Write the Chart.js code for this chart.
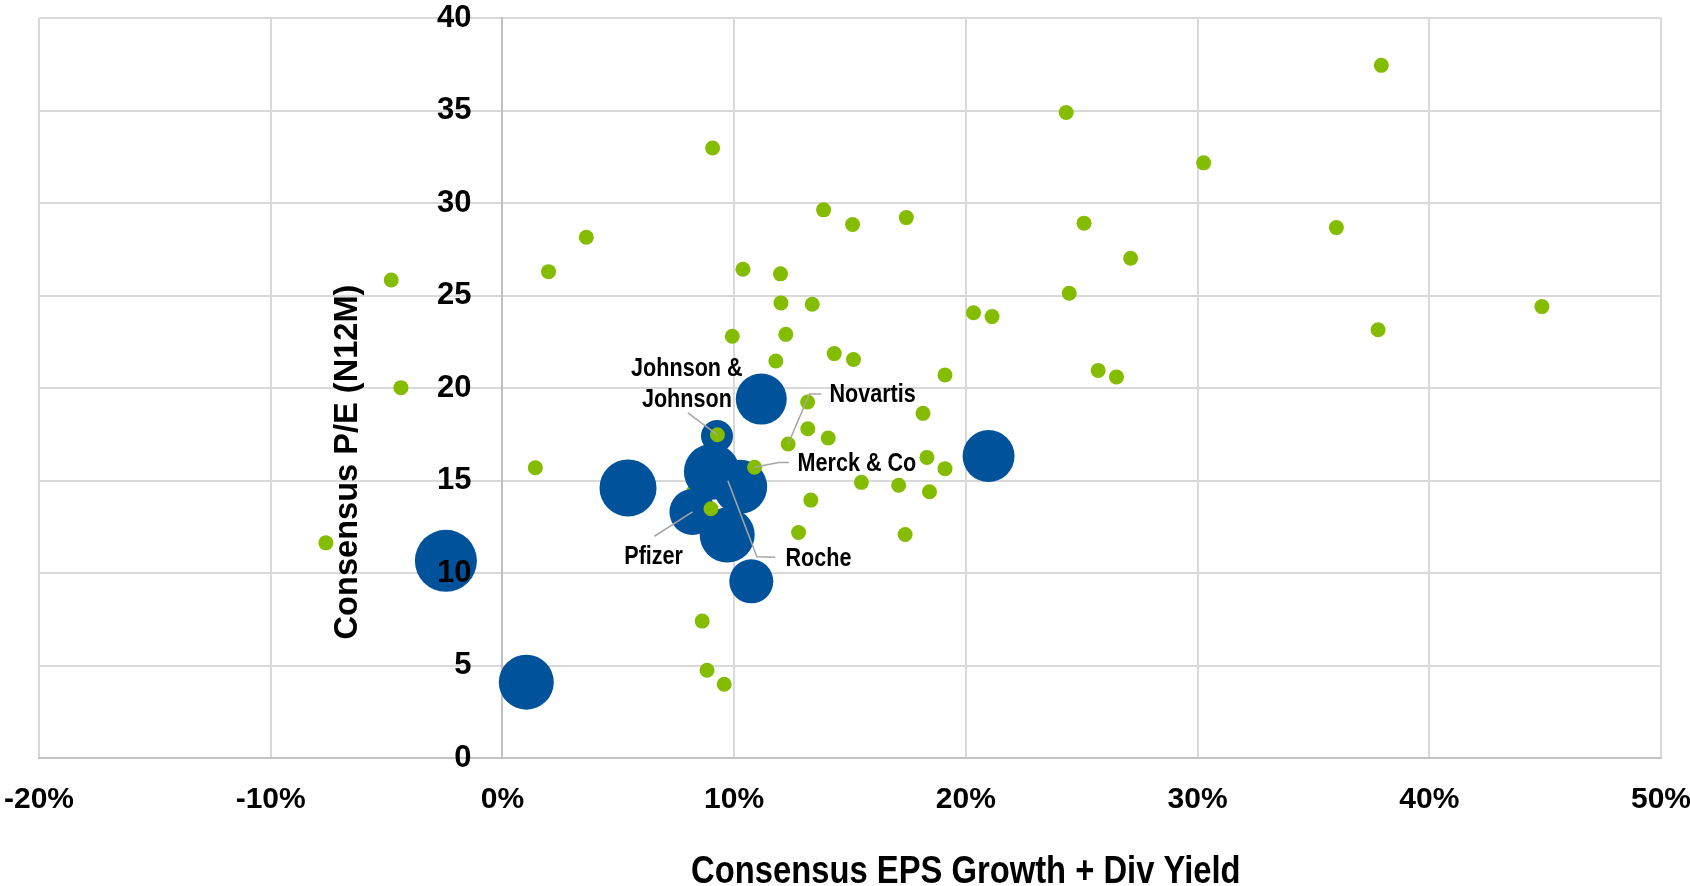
<!DOCTYPE html>
<html>
<head>
<meta charset="utf-8">
<script src="https://cdn.jsdelivr.net/npm/chart.js@4.4.1/dist/chart.umd.min.js"></script>
<style>
  html, body { margin: 0; padding: 0; background: #fff; }
  #wrap { width: 1690px; height: 886px; }
</style>
</head>
<body>
<div id="wrap"><canvas id="valuationChart"></canvas></div>
<script>
// Consensus EPS growth + div yield (%) vs consensus P/E (N12M)
const peerGrowth = [37.93, 24.33, 9.07, 30.26, 13.86, 17.43, 15.11, 25.10, 3.62, 35.99,
  27.11, 1.99, 10.38, 12.00, -4.80, 24.46, 12.02, 13.37, 44.86, 20.33,
  21.13, 37.79, 9.92, 12.23, 14.32, 11.80, 15.15, 19.10, 25.71, 26.50,
  -4.38, 18.15, 13.17, 13.18, 14.06, 12.33, 9.28, 10.88, 18.32, 19.10,
  15.49, 17.10, 18.43, 13.31, 9.00, 12.78, 17.38, 1.42, -7.62, 8.62,
  8.83, 9.57];
const peerPE = [37.44, 34.89, 32.97, 32.17, 29.63, 29.21, 28.84, 28.91, 28.15, 28.67,
  27.01, 26.29, 26.42, 26.17, 25.84, 25.12, 24.60, 24.53, 24.40, 24.07,
  23.86, 23.15, 22.80, 22.90, 21.86, 21.46, 21.54, 20.70, 20.95, 20.60,
  20.02, 18.63, 19.24, 17.80, 17.30, 16.97, 17.47, 15.72, 16.25, 15.64,
  14.90, 14.74, 14.39, 13.94, 13.47, 12.19, 12.08, 15.69, 11.63, 7.40,
  4.74, 3.99];

// one peer sits underneath the big bubbles
const hiddenGrowth = [8.25];
const hiddenPE = [14.39];

// large caps, bubble size in px
const bigGrowth = [-2.44, 1.03, 5.42, 8.20, 9.04, 10.26, 9.70, 9.26, 11.17, 10.74, 20.98];
const bigPE = [10.66, 4.10, 14.60, 13.30, 15.47, 14.66, 12.05, 17.40, 19.40, 9.55, 16.32];
const bigSize = [31, 27.5, 28.5, 23, 28, 27, 27.5, 16, 25.5, 22, 26];

const calloutNames = [['Johnson &', 'Johnson'], ['Novartis'], ['Merck & Co'], ['Pfizer'], ['Roche']];
const calloutGrowth = [9.28, 12.33, 10.88, 8.20, 9.73];
const calloutPE = [17.47, 16.97, 15.72, 13.30, 14.99];

const xMin = -20, xMax = 50, xStep = 10;
const yMin = 0, yMax = 40, yStep = 5;

const green = '#84bc00';
const blue = '#00529b';
const sans = "'Liberation Sans', Arial, sans-serif";
const SQUEEZE = 0.83; // no narrow face installed, squeeze by hand

const toPoints = (xs, ys, rs) => xs.map((v, i) => rs ? { x: v, y: ys[i], r: rs[i] } : { x: v, y: ys[i] });

function squeezedText(ctx, text, x, y, align, sx) {
  ctx.save();
  ctx.translate(x, y);
  ctx.scale(sx, 1);
  ctx.textAlign = align;
  ctx.fillText(text, 0, 0);
  ctx.restore();
}

// leader lines + labels, offsets in px from the point they refer to
const calloutLayout = [
  { path: [[-29.6, -22]], text: [-30.6, -66], align: 'center', lineGap: 31 },
  { path: [[21.3, -50], [33, -50]], text: [41.3, -49], align: 'left' },
  { path: [[24, -4.6], [34.4, -4.6]], text: [43, -3.3], align: 'left' },
  { path: [[-38, 24.3]], text: [-38.8, 45], align: 'center' },
  { path: [[29, 76], [47.3, 76.6]], text: [57.6, 78.3], align: 'left' }
];

const annotate = {
  id: 'annotate',
  afterDatasetsDraw(chart) {
    const { ctx, scales } = chart;
    ctx.save();
    ctx.strokeStyle = '#a6a6a6';
    ctx.lineWidth = 1.5;
    ctx.fillStyle = '#000';
    ctx.font = 'bold 26px ' + sans;
    ctx.textBaseline = 'middle';
    for (let i = 0; i < calloutNames.length; i++) {
      const px = scales.x.getPixelForValue(calloutGrowth[i]);
      const py = scales.y.getPixelForValue(calloutPE[i]);
      const lay = calloutLayout[i];
      ctx.beginPath();
      ctx.moveTo(px, py);
      lay.path.forEach(p => ctx.lineTo(px + p[0], py + p[1]));
      ctx.stroke();
      calloutNames[i].forEach((line, j) => {
        squeezedText(ctx, line, px + lay.text[0], py + lay.text[1] + j * (lay.lineGap || 0), lay.align, SQUEEZE);
      });
    }
    ctx.restore();
  },
  afterDraw(chart) {
    const { ctx, scales } = chart;
    ctx.save();
    ctx.fillStyle = '#000';
    ctx.textBaseline = 'middle';
    // the x title sits under the 20% tick in the original
    ctx.font = 'bold 39px ' + sans;
    squeezedText(ctx, 'Consensus EPS Growth + Div Yield', scales.x.getPixelForValue(20), 872, 'center', 0.84);
    ctx.translate(scales.x.getPixelForValue(0) - 154, scales.y.getPixelForValue(16));
    ctx.rotate(-Math.PI / 2);
    ctx.textAlign = 'center';
    ctx.font = 'bold 32.6px ' + sans;
    ctx.fillText('Consensus P/E (N12M)', 0, 0);
    ctx.restore();
  }
};

const ctx = document.getElementById('valuationChart').getContext('2d');
new Chart(ctx, {
  type: 'bubble',
  data: {
    datasets: [
      { data: toPoints(peerGrowth, peerPE), backgroundColor: green, borderWidth: 0, radius: 7.5 },
      { data: toPoints(bigGrowth, bigPE, bigSize), backgroundColor: blue, borderWidth: 0 },
      { data: toPoints(hiddenGrowth, hiddenPE), backgroundColor: green, borderWidth: 0, radius: 7.5 }
    ]
  },
  options: {
    responsive: true,
    maintainAspectRatio: false,
    animation: false,
    layout: { autoPadding: false, padding: { left: 39, right: 29, top: 18, bottom: 0 } },
    plugins: {
      legend: { display: false },
      tooltip: { enabled: false }
    },
    scales: {
      x: {
        type: 'linear',
        min: xMin,
        max: xMax,
        ticks: {
          stepSize: xStep,
          padding: 24,
          color: '#000',
          font: { family: sans, size: 30, weight: 'bold' },
          callback: v => v + '%'
        },
        grid: { color: '#d9d9d9', lineWidth: 2, drawTicks: false },
        border: { color: '#c4c4c4', width: 2 },
        afterFit(scale) {
          scale.height = 128;
          scale.paddingLeft = 0;
          scale.paddingRight = 0;
        }
      },
      y: {
        type: 'linear',
        min: yMin,
        max: yMax,
        position: { x: 0 },
        ticks: {
          stepSize: yStep,
          padding: 0,
          z: 1,
          color: '#000',
          font: { family: sans, size: 31, weight: 'bold' },
          // axis crosses at 0%, labels hang left of it; en spaces keep the gap
          callback: v => v + '\u2002\u2002'
        },
        grid: { color: '#d9d9d9', lineWidth: 2, drawTicks: false },
        border: { color: '#c0c0c0', width: 2 },
        afterFit(scale) {
          scale.paddingTop = 0;
          scale.paddingBottom = 0;
        }
      }
    }
  },
  plugins: [annotate]
});
</script>
</body>
</html>
